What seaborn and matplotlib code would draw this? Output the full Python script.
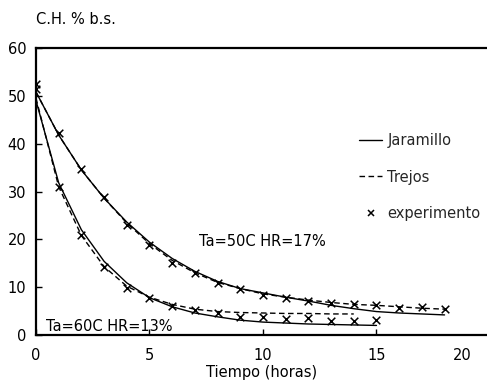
import numpy as np
import pandas as pd
import seaborn as sns
import matplotlib
matplotlib.use("Agg")
import matplotlib.pyplot as plt
from matplotlib.lines import Line2D

# ---- data ----
t_exp_50 = list(range(0, 19))
ch_exp_50 = [52.5, 42.3, 34.7, 28.9, 23.0, 18.8, 15.1, 13.0, 10.9, 9.6,
             8.4, 7.7, 7.1, 6.7, 6.4, 6.3, 5.6, 5.8, 5.5]
t_exp_60 = list(range(0, 16))
ch_exp_60 = [51.5, 31.0, 20.9, 14.2, 9.8, 7.7, 6.1, 5.2, 4.6, 3.8,
             3.8, 3.3, 3.6, 2.9, 2.9, 3.1]

t_mod_50 = list(range(0, 19))
jaramillo_50 = [50.8, 41.8, 34.5, 28.6, 23.6, 19.4, 16.0, 13.3, 11.2, 9.7,
                8.8, 7.9, 7.1, 6.2, 5.5, 4.9, 4.6, 4.4, 4.2]
trejos_50 = [50.8, 41.8, 34.5, 28.6, 23.4, 19.1, 15.6, 13.0, 11.0, 9.7,
             8.6, 7.9, 7.3, 6.8, 6.4, 6.2, 5.9, 5.6, 5.4]

t_jar_60 = list(range(0, 16))
jaramillo_60 = [49.0, 31.8, 22.0, 15.4, 10.9, 7.8, 5.9, 4.6, 3.8, 3.1,
                2.7, 2.5, 2.3, 2.2, 2.1, 2.0]
t_trej_60 = list(range(0, 15))
trejos_60 = [49.5, 31.0, 20.8, 14.3, 10.2, 7.9, 6.4, 5.4, 4.9, 4.7,
             4.6, 4.5, 4.5, 4.4, 4.4]

x_tick_pos = [0, 5, 10, 15, 18.8]
x_tick_labels = ["0", "5", "10", "15", "20"]
y_ticks = [0, 10, 20, 30, 40, 50, 60]

legend_labels = ["Jaramillo", "Trejos", "experimento"]

# ---- style ----
sns.set_theme(style="white")
plt.rcParams["font.family"] = ["DejaVu Sans"]
FS = 10.5

fig = plt.figure(figsize=(4.87, 3.83), dpi=100)
ax = fig.add_axes([36 / 487, 48 / 383, 451 / 487, 287 / 383])

dash = (4, 2.5)
sns.lineplot(x=t_mod_50, y=jaramillo_50, ax=ax, color="black", lw=1.0)
sns.lineplot(x=t_mod_50, y=trejos_50, ax=ax, color="black", lw=1.0,
             dashes=False).lines[-1].set_dashes(dash)
sns.lineplot(x=t_jar_60, y=jaramillo_60, ax=ax, color="black", lw=1.0)
sns.lineplot(x=t_trej_60, y=trejos_60, ax=ax, color="black", lw=1.0,
             dashes=False).lines[-1].set_dashes(dash)

sns.scatterplot(x=t_exp_50, y=ch_exp_50, ax=ax, marker="x", color="black",
                s=30, linewidth=1.1, zorder=5)
sns.scatterplot(x=t_exp_60, y=ch_exp_60, ax=ax, marker="x", color="black",
                s=30, linewidth=1.1, zorder=5)

ax.set_xlim(0, 19.87)
ax.set_ylim(0, 60)
ax.set_xticks(x_tick_pos, x_tick_labels)
ax.set_yticks(y_ticks)
ax.tick_params(bottom=True, left=True, top=False, right=False,
               direction="in", length=4, width=1.0, colors="black",
               labelsize=FS)
ax.tick_params(axis="x", pad=9)
ax.tick_params(axis="y", pad=7)
ax.xaxis.get_major_ticks()[-1].tick1line.set_visible(False)
for side in ["left", "top", "bottom"]:
    ax.spines[side].set_visible(True)
    ax.spines[side].set_color("black")
    ax.spines[side].set_linewidth(1.6)
ax.spines["right"].set_visible(False)

ax.set_xlabel("Tiempo (horas)", fontsize=FS, color="black", labelpad=2)
ax.set_ylabel("")
fig.text(36 / 487, 1 - 20 / 383, "C.H. % b.s.", fontsize=FS, color="black",
         ha="left", va="center")

ax.text(7.2, 19.5, "Ta=50C HR=17%", fontsize=FS, color="black",
        ha="left", va="center")
ax.text(0.45, 1.8, "Ta=60C HR=13%", fontsize=FS, color="black",
        ha="left", va="center")

handles = [
    Line2D([], [], color="black", lw=1.0),
    Line2D([], [], color="black", lw=1.0, dashes=dash),
    Line2D([], [], color="black", lw=0, marker="x", markersize=5,
           markeredgewidth=1.1),
]
ax.legend(handles, legend_labels, loc="upper left",
          bbox_to_anchor=(0.716, 0.705), frameon=False, fontsize=FS,
          handlelength=1.6, handletextpad=0.35, labelspacing=1.5,
          borderpad=0, borderaxespad=0)

fig.savefig("out.png", dpi=100)
